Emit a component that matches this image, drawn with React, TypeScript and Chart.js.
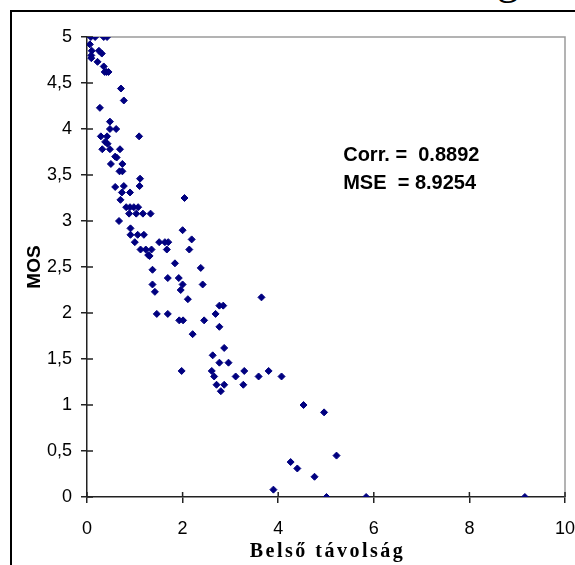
import React, { useEffect, useRef } from "react";
import { Chart, registerables } from "chart.js";

Chart.register(...registerables);

// Belső távolság (x) and MOS (y), one entry per point
const distance = [
  0.08, 0.17, 0.35, 0.42,
  0.06, 0.1, 0.09, 0.09,
  0.25, 0.31,
  0.22, 0.35,
  0.37, 0.41, 0.45,
  0.71, 0.77, 0.27,
  0.48, 0.48, 0.61,
  0.29, 0.42, 1.09,
  0.38, 0.43,
  0.32, 0.48, 0.69,
  0.59, 0.62,
  0.5, 0.74,
  0.68, 0.74,
  1.11,
  0.59, 0.77, 1.1,
  2.04,
  0.73, 0.9,
  0.7,
  0.82, 0.9, 0.98, 1.07,
  0.88, 1.03, 1.17, 1.33,
  0.67,
  2.0, 0.91,
  0.91, 1.06, 1.19,
  2.19,
  1.0, 1.51, 1.63, 1.7,
  1.12, 1.23, 1.35, 1.67, 2.14,
  1.28, 1.31,
  1.84, 2.38, 1.37,
  1.69, 1.92,
  1.37, 2.0, 2.42,
  1.42, 1.96,
  2.11, 3.65,
  2.77, 2.85,
  2.69, 1.46, 1.69,
  1.93, 2.01, 2.45,
  2.77, 2.21, 2.87, 2.63,
  2.77, 2.96,
  1.98, 2.61, 3.29, 3.8,
  2.66, 3.11, 3.59, 4.07,
  2.71, 2.87, 3.27,
  2.8,
  4.53, 4.96,
  5.22, 4.26, 4.4, 4.76,
  3.9,
  5.01, 5.84, 9.16,
];

const mos = [
  5.0, 5.0, 5.0, 5.0,
  4.92, 4.85, 4.8, 4.77,
  4.85, 4.82,
  4.73, 4.68,
  4.62, 4.62, 4.62,
  4.44, 4.31, 4.23,
  4.08, 4.0, 4.0,
  3.92, 3.92, 3.92,
  3.86, 3.84,
  3.78, 3.78, 3.78,
  3.7, 3.69,
  3.62, 3.62,
  3.54, 3.54,
  3.46,
  3.37, 3.38, 3.38,
  3.25,
  3.31, 3.31,
  3.23,
  3.15, 3.15, 3.15, 3.15,
  3.08, 3.08, 3.08, 3.08,
  3.0,
  2.9, 2.92,
  2.85, 2.85, 2.85,
  2.8,
  2.77, 2.77, 2.77, 2.77,
  2.69, 2.69, 2.69, 2.69, 2.69,
  2.63, 2.62,
  2.54, 2.49, 2.47,
  2.38, 2.38,
  2.31, 2.31, 2.31,
  2.23, 2.25,
  2.15, 2.17,
  2.08, 2.08,
  1.99, 1.99, 1.99,
  1.92, 1.92, 1.92,
  1.85, 1.77, 1.62, 1.54,
  1.46, 1.46,
  1.37, 1.37, 1.37, 1.37,
  1.31, 1.31, 1.31, 1.31,
  1.22, 1.22, 1.22,
  1.15,
  1.0, 0.92,
  0.45, 0.38, 0.31, 0.22,
  0.08,
  0, 0, 0,
];

const xTitle = "Belső távolság";
const yTitle = "MOS";
const annotationLines = ["Corr. =  0.8892", "MSE  = 8.9254"];
const annotationX = 5.36;
const annotationY = [3.655, 3.345];

const tickFont = { family: "'Liberation Sans', Arial, sans-serif", size: 18 };

const decor = {
  id: "decor",
  beforeDatasetsDraw(chart: any) {
    const { ctx, chartArea: a, scales } = chart;
    const x = scales.x;
    const y = scales.y;
    ctx.save();
    ctx.strokeStyle = "#9a9a9a";
    ctx.lineWidth = 1.5;
    ctx.beginPath();
    ctx.moveTo(a.left, a.top);
    ctx.lineTo(a.right, a.top);
    ctx.lineTo(a.right, a.bottom);
    ctx.stroke();
    ctx.strokeStyle = "#222";
    ctx.lineWidth = 1.5;
    ctx.beginPath();
    x.ticks.forEach((t: any) => {
      const px = x.getPixelForValue(t.value);
      ctx.moveTo(px, a.bottom);
      ctx.lineTo(px, a.bottom - 5);
    });
    y.ticks.forEach((t: any) => {
      const py = y.getPixelForValue(t.value);
      ctx.moveTo(a.left, py);
      ctx.lineTo(a.left + 6, py);
    });
    ctx.stroke();
    ctx.restore();
  },
  afterDraw(chart: any) {
    const { ctx, chartArea: a, scales } = chart;
    const x = scales.x;
    const y = scales.y;
    ctx.save();
    ctx.fillStyle = "#000";
    ctx.font = "bold 20px 'Liberation Sans', Arial, sans-serif";
    ctx.textAlign = "left";
    ctx.textBaseline = "alphabetic";
    annotationLines.forEach((line, i) => {
      ctx.fillText(line, x.getPixelForValue(annotationX), y.getPixelForValue(annotationY[i]));
    });
    ctx.font = "bold 20px 'Liberation Serif', 'Times New Roman', serif";
    ctx.textAlign = "center";
    (ctx as any).letterSpacing = "2.5px";
    ctx.fillText(xTitle, (a.left + a.right) / 2 + 1.5, a.bottom + 60);
    ctx.restore();
  },
};

export default function App() {
  const canvasRef = useRef<HTMLCanvasElement | null>(null);

  useEffect(() => {
    const canvas = canvasRef.current;
    if (!canvas) return;
    const points = distance.map((d, i) => ({ x: d, y: mos[i] }));
    const chart = new Chart(canvas, {
      type: "scatter",
      data: {
        datasets: [
          {
            data: points,
            pointStyle: "rectRot",
            radius: 3.5,
            backgroundColor: "#000080",
            borderColor: "#000080",
            borderWidth: 1,
          },
        ],
      },
      options: {
        responsive: false,
        animation: false,
        devicePixelRatio: 1,
        layout: { padding: { left: 0, top: 37, right: 10, bottom: 0 } },
        plugins: {
          legend: { display: false },
          tooltip: { enabled: false },
        },
        scales: {
          x: {
            type: "linear",
            min: 0,
            max: 10,
            ticks: { stepSize: 2, font: tickFont, color: "#000", padding: 15 },
            grid: { drawOnChartArea: false, drawTicks: true, tickLength: 6, color: "#222", lineWidth: 1.5 },
            border: { color: "#222", width: 1.5 },
            afterFit: (s: any) => {
              s.height = 68;
              s.paddingLeft = 0;
              s.paddingRight = 0;
            },
          },
          y: {
            type: "linear",
            min: 0,
            max: 5,
            ticks: {
              stepSize: 0.5,
              font: tickFont,
              color: "#000",
              padding: 9,
              callback: (v: any) => String(v).replace(".", ","),
            },
            grid: { drawOnChartArea: false, drawTicks: true, tickLength: 6, color: "#222", lineWidth: 1.5 },
            border: { color: "#222", width: 1.5 },
            title: {
              display: true,
              text: yTitle,
              color: "#000",
              font: { family: "'Liberation Sans', Arial, sans-serif", size: 19, weight: "bold" },
              padding: { top: 23, bottom: 0 },
            },
            afterFit: (s: any) => {
              s.width = 87;
            },
          },
        },
      },
      plugins: [decor],
    } as any);
    return () => chart.destroy();
  }, []);

  return (
    <div style={{ position: "absolute", left: 0, top: 0, width: 575, height: 565, overflow: "hidden", background: "#fff" }}>
      <span
        style={{
          position: "absolute",
          left: 497,
          top: -42,
          fontFamily: "'Liberation Serif', 'Times New Roman', serif",
          fontSize: 44,
          lineHeight: "44px",
          color: "#000",
        }}
      >
        g
      </span>
      <div
        style={{
          position: "absolute",
          left: 10,
          top: 10,
          width: 640,
          height: 640,
          borderTop: "2px solid #000",
          borderLeft: "2px solid #000",
        }}
      />
      <canvas ref={canvasRef} width={575} height={565} style={{ position: "absolute", left: 0, top: 0, width: 575, height: 565 }} />
    </div>
  );
}
